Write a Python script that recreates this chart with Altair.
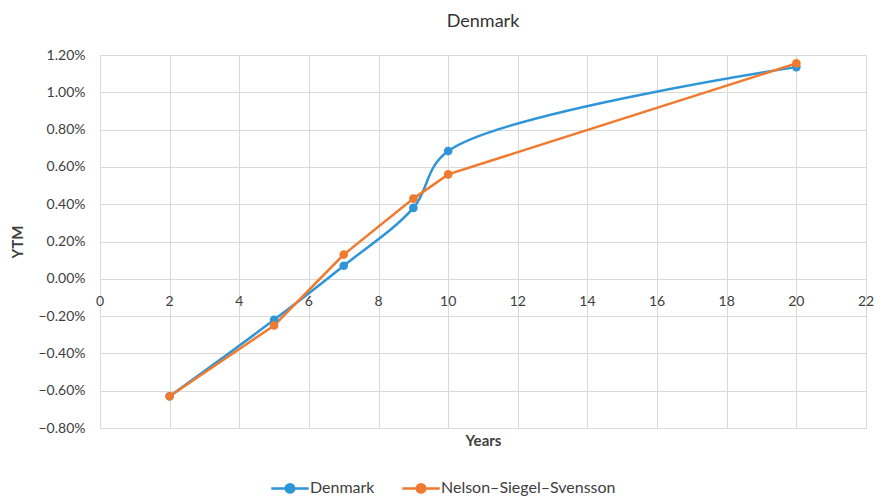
import altair as alt
import pandas as pd

years = [2, 5, 7, 9, 10, 20]
denmark = [-0.0063, -0.0022, 0.0007, 0.0038, 0.00685, 0.01135]
nss = [-0.0063, -0.0025, 0.0013, 0.0043, 0.0056, 0.01155]
series_names = ["Denmark", "Nelson–Siegel–Svensson"]
colors = ["#2E96D8", "#F07A2E"]
x_ticks = [0, 2, 4, 6, 8, 10, 12, 14, 16, 18, 20, 22]
y_ticks = [-0.008, -0.006, -0.004, -0.002, 0.0, 0.002, 0.004, 0.006, 0.008, 0.010, 0.012]

rows = []
for y, v in zip(years, denmark):
    rows.append({"Years": y, "YTM": v, "Series": series_names[0]})
for y, v in zip(years, nss):
    rows.append({"Years": y, "YTM": v, "Series": series_names[1]})
df = pd.DataFrame(rows)
ticks_df = pd.DataFrame({"Years": x_ticks, "YTM": [0.0] * len(x_ticks)})

FONT = "Lato"
TXT = "#404040"

xs = alt.Scale(domain=[0, 22], nice=False, zero=False)
ys = alt.Scale(domain=[-0.008, 0.012], nice=False)
cs = alt.Scale(domain=series_names, range=colors)

x_enc = alt.X("Years:Q", scale=xs, axis=alt.Axis(values=x_ticks, labels=False, ticks=False, domain=False,
                                                   grid=True, gridColor="#d9d9d9", title="Years",
                                                   titleFontSize=15, titleFont=FONT, titleColor=TXT,
                                                   titleFontWeight="bold", titlePadding=5))
y_enc = alt.Y("YTM:Q", scale=ys, axis=alt.Axis(values=y_ticks, format=".2%", labelOverlap=False,
                                                 grid=True, gridColor="#d9d9d9", ticks=False, domain=False,
                                                 labelFont=FONT, labelFontSize=14, labelColor=TXT, labelPadding=15,
                                                 title="YTM", titleFont=FONT, titleFontSize=15, titleColor=TXT,
                                                 titleFontWeight="bold", titlePadding=12))

legend = alt.Legend(orient="none", legendX=179, legendY=422, direction="horizontal", title=None,
                    labelFont=FONT, labelFontSize=16, labelColor=TXT, labelLimit=400,
                    symbolType="M-2,0L2,0M-0.45,0a0.45,0.45 0 1,0 0.9,0a0.45,0.45 0 1,0 -0.9,0",
                    symbolSize=350, symbolStrokeWidth=2.5, columnPadding=22, labelOffset=9)

base = alt.Chart(df)

line_dk = base.transform_filter(alt.datum.Series == series_names[0]).mark_line(
    interpolate="catmull-rom", strokeWidth=2.5).encode(
    x=x_enc, y=y_enc, color=alt.Color("Series:N", scale=cs, legend=legend))
line_nss = base.transform_filter(alt.datum.Series == series_names[1]).mark_line(
    strokeWidth=2.5).encode(
    x=x_enc, y=y_enc, color=alt.Color("Series:N", scale=cs, legend=legend))
points = base.mark_circle(size=75, opacity=1).encode(
    x=x_enc, y=y_enc, color=alt.Color("Series:N", scale=cs, legend=legend))

xlabels = alt.Chart(ticks_df).mark_text(font=FONT, fontSize=14, color=TXT, dy=23).encode(
    x=x_enc, y=y_enc, text=alt.Text("Years:Q"))

chart = alt.layer(line_dk, line_nss, points, xlabels).properties(
    width=766, height=373,
    title=alt.TitleParams("Denmark", font=FONT, fontSize=18, fontWeight="normal", color="#333333", offset=17),
    autosize=alt.AutoSizeParams(type="none"),
    padding={"left": 92, "top": 47, "right": 8, "bottom": 68},
).configure_view(stroke="#d9d9d9").configure(background="white")

chart.save("out.html", embed_options={"renderer": "svg", "actions": False})
